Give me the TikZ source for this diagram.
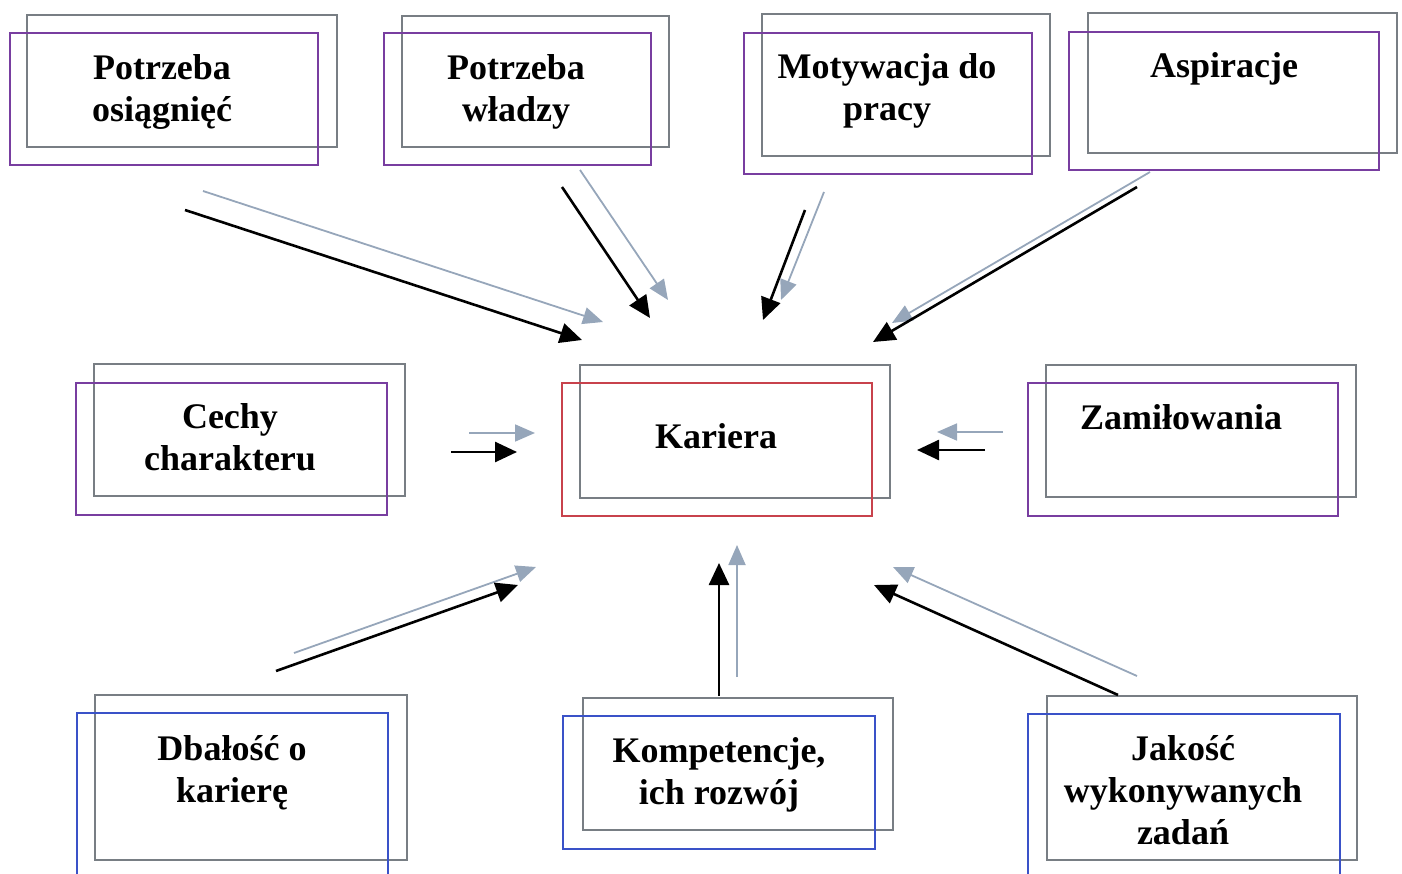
\documentclass[tikz,border=0pt]{standalone}
\usepackage{fontspec}
\setmainfont{Liberation Serif}
\usetikzlibrary{arrows.meta,fit}

\definecolor{backline}{RGB}{120,126,132}
\definecolor{purpleline}{RGB}{120,62,160}
\definecolor{redline}{RGB}{200,66,76}
\definecolor{blueline}{RGB}{58,82,200}
\definecolor{palearrow}{RGB}{150,166,186}

\tikzset{
  backbox/.style={draw=backline, line width=1.3pt, inner sep=0pt},
  frontbox/.style={draw=#1, line width=1.7pt, inner sep=0pt},
  % anchored at the baseline of the last line of the label
  boxtext/.style={font=\bfseries\fontsize{36}{42}\selectfont, align=center,
    anchor=base, inner sep=0pt},
  darkarrow/.style={draw=black, line width=2.6pt,
    -{Triangle[length=22pt,width=20pt]}},
  palearr/.style={draw=palearrow, line width=1.8pt,
    -{Triangle[length=20pt,width=17pt,fill=palearrow]}},
}

\begin{document}
\begin{tikzpicture}[x=1pt,y=-1pt]
\useasboundingbox (0,0) rectangle (1402,874);

% ---- top row ----
\node[backbox, fit={(27,15)(337,147)}] (b1back) {};
\node[frontbox=purpleline, fit={(10,33)(318,165)}] (b1) {};
\node[boxtext] (t1) at (162,122) {Potrzeba\\osiągnięć};

\node[backbox, fit={(402,16)(669,147)}] (b2back) {};
\node[frontbox=purpleline, fit={(384,33)(651,165)}] (b2) {};
\node[boxtext] (t2) at (516,122) {Potrzeba\\władzy};

\node[backbox, fit={(762,14)(1050,156)}] (b3back) {};
\node[frontbox=purpleline, fit={(744,33)(1032,174)}] (b3) {};
\node[boxtext] (t3) at (887,121) {Motywacja do\\pracy};

\node[backbox, fit={(1088,13)(1397,153)}] (b4back) {};
\node[frontbox=purpleline, fit={(1069,32)(1379,170)}] (b4) {};
\node[boxtext] (t4) at (1224,78) {Aspiracje};

% ---- middle row ----
\node[backbox, fit={(94,364)(405,496)}] (b5back) {};
\node[frontbox=purpleline, fit={(76,383)(387,515)}] (b5) {};
\node[boxtext] (t5) at (230,470) {Cechy\\charakteru};

\node[backbox, fit={(580,365)(890,498)}] (kback) {};
\node[frontbox=redline, fit={(562,383)(872,516)}] (k) {};
\node[boxtext] (tk) at (716,448) {Kariera};

\node[backbox, fit={(1046,365)(1356,497)}] (b6back) {};
\node[frontbox=purpleline, fit={(1028,383)(1338,516)}] (b6) {};
\node[boxtext] (t6) at (1181,429) {Zamiłowania};

% ---- bottom row ----
\node[backbox, fit={(95,695)(407,860)}] (b7back) {};
\node[frontbox=blueline, fit={(77,713)(388,892)}] (b7) {};
\node[boxtext] (t7) at (232,802) {Dbałość o\\karierę};

\node[backbox, fit={(583,698)(893,830)}] (b8back) {};
\node[frontbox=blueline, fit={(563,716)(875,849)}] (b8) {};
\node[boxtext] (t8) at (719,804) {Kompetencje,\\ich rozwój};

\node[backbox, fit={(1047,696)(1357,860)}] (b9back) {};
\node[frontbox=blueline, fit={(1028,714)(1340,892)}] (b9) {};
\node[boxtext] (t9) at (1183,844) {Jakość\\wykonywanych\\zadań};

% ---- arrow end points ----
\coordinate (a1d) at (185,210);   \coordinate (a1dt) at (582,340);
\coordinate (a1p) at (203,191);   \coordinate (a1pt) at (603,322);
\coordinate (a2d) at (562,187);   \coordinate (a2dt) at (650,318);
\coordinate (a2p) at (580,170);   \coordinate (a2pt) at (668,300);
\coordinate (a3d) at (805,210);   \coordinate (a3dt) at (763,320);
\coordinate (a3p) at (824,192);   \coordinate (a3pt) at (781,300);
\coordinate (a4d) at (1137,187);  \coordinate (a4dt) at (873,342);
\coordinate (a4p) at (1150,172);  \coordinate (a4pt) at (892,323);
\coordinate (a5d) at (451,452);   \coordinate (a5dt) at (517,452);
\coordinate (a5p) at (469,433);   \coordinate (a5pt) at (535,433);
\coordinate (a6d) at (985,450);   \coordinate (a6dt) at (917,450);
\coordinate (a6p) at (1003,432);  \coordinate (a6pt) at (937,432);
\coordinate (a7d) at (276,671);   \coordinate (a7dt) at (518,585);
\coordinate (a7p) at (294,653);   \coordinate (a7pt) at (536,567);
\coordinate (a8d) at (719,696);   \coordinate (a8dt) at (719,563);
\coordinate (a8p) at (737,677);   \coordinate (a8pt) at (737,545);
\coordinate (a9d) at (1118,695);  \coordinate (a9dt) at (874,585);
\coordinate (a9p) at (1137,676);  \coordinate (a9pt) at (893,567);

% ---- arrows: pale shadow first, dark arrow on top ----
\foreach \i in {1,...,9}{
  \draw[palearr] (a\i p) -- (a\i pt);
  \draw[darkarrow] (a\i d) -- (a\i dt);
}
\end{tikzpicture}
\end{document}
